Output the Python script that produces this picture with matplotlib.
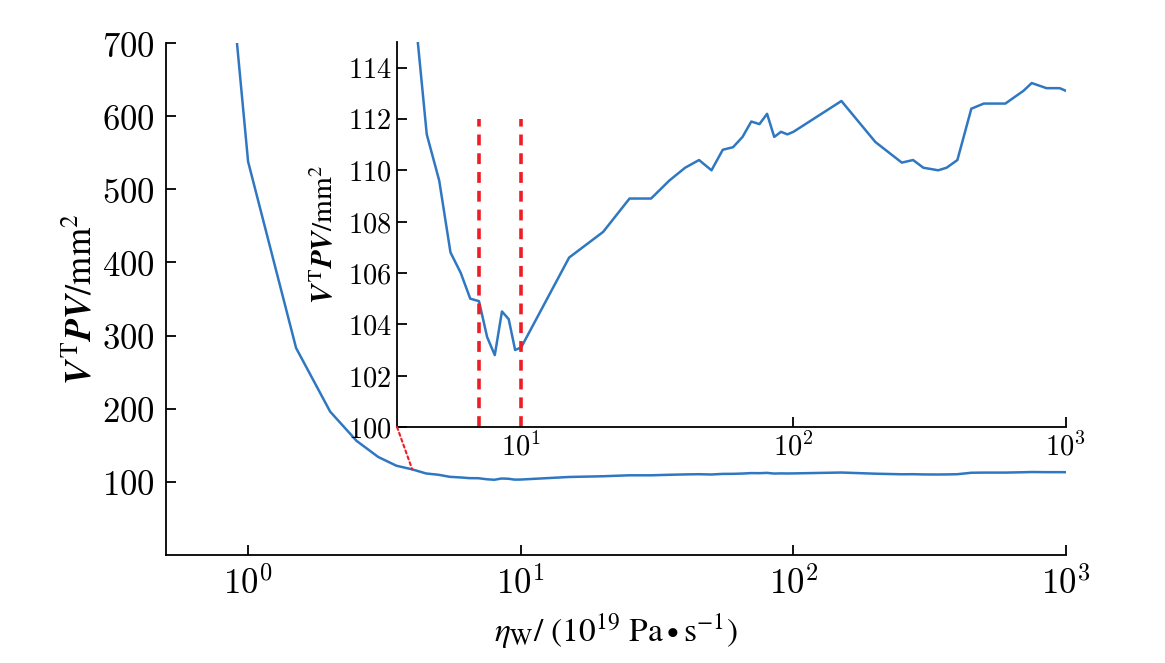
import math
import matplotlib
matplotlib.use("Agg")
import matplotlib.pyplot as plt
from matplotlib.ticker import FuncFormatter, FixedLocator, NullLocator
from matplotlib.patches import ConnectionPatch

plt.rcParams['mathtext.fontset'] = 'cm'
plt.rcParams['font.family'] = ['DejaVu Serif']

# main curve (eta_W, V^T P V)
main_x = [0.9, 1.0, 1.5, 2.0, 2.5, 3.0, 3.5, 4.0]
main_y = [720, 538, 283, 196, 156, 134, 122, 117]

# detailed curve (shared by inset and main)
det_x = [4.5, 5.0, 5.5, 6.0, 6.5, 7.0, 7.5, 8.0, 8.5, 9.0, 9.5, 10, 15, 20, 25, 30, 35, 40,
         45, 50, 55, 60, 65, 70, 75, 80, 85, 90, 95, 100, 150, 200, 250, 275, 300, 320,
         340, 365, 400, 450, 500, 600, 700, 750, 850, 950, 1000]
det_y = [111.4, 109.6, 106.8, 106.0, 105.0, 104.9, 103.5, 102.8, 104.5, 104.2, 103.0, 103.1,
         106.6, 107.6, 108.9, 108.9, 109.6, 110.1, 110.4, 110.0, 110.8, 110.9, 111.3, 111.9,
         111.8, 112.2, 111.3, 111.5, 111.4, 111.5, 112.7, 111.1, 110.3, 110.4, 110.1, 110.05,
         110.0, 110.1, 110.4, 112.4, 112.6, 112.6, 113.1, 113.4, 113.2, 113.2, 113.1]

full_x = main_x + det_x
full_y = main_y + det_y

vlines_x = [7, 10]
vline_top = 112

main_yticks = [100, 200, 300, 400, 500, 600, 700]
inset_yticks = [100, 102, 104, 106, 108, 110, 112, 114]
xticks = [1, 10, 100, 1000]

blue = '#2F78C1'
red = '#EE1C25'

int_fmt = FuncFormatter(lambda v, p: r'$%d$' % v)
pow_fmt = FuncFormatter(lambda v, p: r'$10^{%d}$' % round(math.log10(v)))

fig = plt.figure(figsize=(11.65, 6.63), dpi=100)
ax = fig.add_axes([0.1425, 0.163, 0.7725, 0.772])
ax.plot(full_x, full_y, color=blue, lw=1.8)
ax.set_xscale('log')
ax.set_xlim(0.5, 1000)
ax.set_ylim(0, 700)
ax.xaxis.set_major_locator(FixedLocator(xticks))
ax.xaxis.set_minor_locator(NullLocator())
ax.set_yticks(main_yticks)
ax.yaxis.set_major_formatter(int_fmt)
ax.xaxis.set_major_formatter(pow_fmt)
for s in ['top', 'right']:
    ax.spines[s].set_visible(False)
for s in ['left', 'bottom']:
    ax.spines[s].set_linewidth(1.3)
ax.tick_params(direction='in', length=7, width=1.3, labelsize=25, pad=8)
ax.set_xlabel(r'$\eta_{\mathrm{W}}/\ (10^{19}\ \mathrm{Pa}\bullet\mathrm{s}^{-1})$', fontsize=24,
              math_fontfamily='stix', labelpad=8)
ax.set_ylabel(r'$\mathbfit{V}^{\,\mathrm{T}}\mathbfit{PV}/\mathrm{mm}^{2}$', fontsize=26,
              math_fontfamily='stix', labelpad=3)

ins = fig.add_axes([0.3408, 0.356, 0.574, 0.5807])
ins.plot(full_x, full_y, color=blue, lw=1.8)
ins.set_xscale('log')
ins.set_xlim(3.5, 1000)
ins.set_ylim(100, 115)
ins.xaxis.set_major_locator(FixedLocator([10, 100, 1000]))
ins.xaxis.set_minor_locator(NullLocator())
ins.set_yticks(inset_yticks)
ins.yaxis.set_major_formatter(int_fmt)
ins.xaxis.set_major_formatter(pow_fmt)
for s in ['top', 'right']:
    ins.spines[s].set_visible(False)
for s in ['left', 'bottom']:
    ins.spines[s].set_linewidth(1.3)
ins.tick_params(direction='in', length=7, width=1.3, labelsize=20.5, pad=4)
ins.patch.set_alpha(0)
for xv in vlines_x:
    ins.plot([xv, xv], [100, vline_top], color=red, lw=2.6, ls=(0, (3, 2.2)))
ins.set_ylabel(r'$\mathbfit{V}^{\,\mathrm{T}}\mathbfit{PV}/\mathrm{mm}^{2}$', fontsize=21,
               math_fontfamily='stix', labelpad=6)

con = ConnectionPatch(xyA=(3.5, 100), coordsA=ins.transData, xyB=(4.0, 117), coordsB=ax.transData,
                      color=red, lw=1.5, ls=(0, (1.5, 1.5)))
fig.add_artist(con)

fig.savefig('out.png', dpi=100)
